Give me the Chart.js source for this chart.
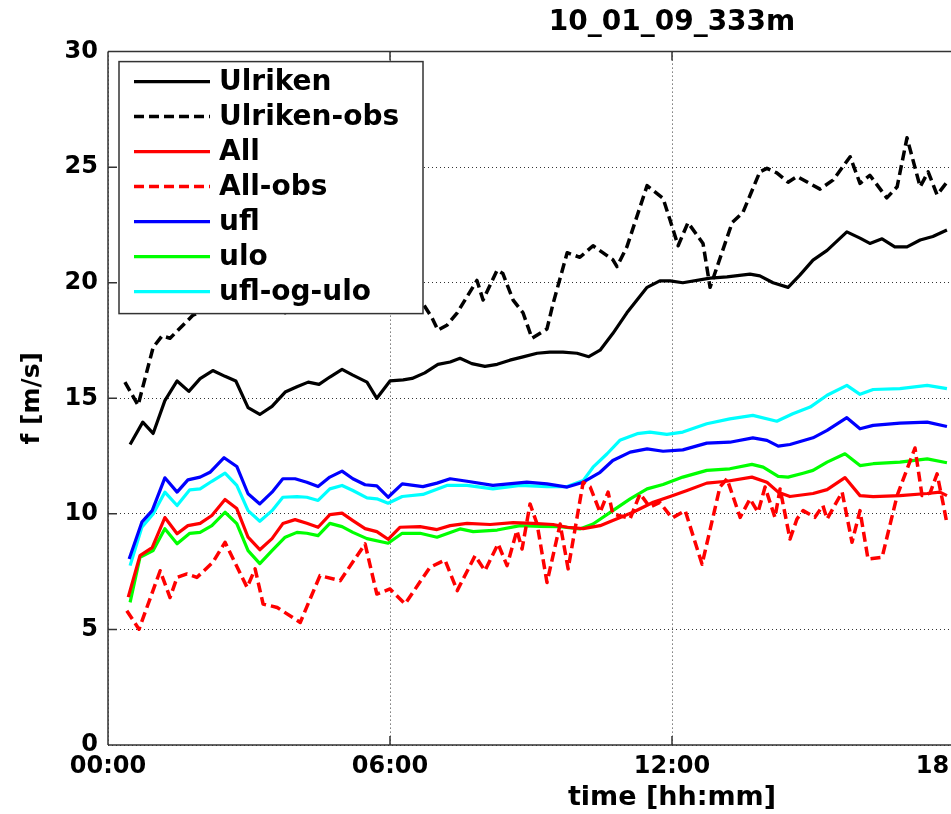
<!DOCTYPE html>
<html>
<head>
<meta charset="utf-8">
<script src="https://cdn.jsdelivr.net/npm/chart.js@4"></script>
<style>
html,body{margin:0;padding:0;overflow:hidden;background:#fff}
#wrap{width:951px;height:814px;overflow:hidden;position:relative}
canvas{display:block}
</style>
</head>
<body>
<div id="wrap"><canvas id="c" width="1300" height="814" style="width:1300px;height:814px"></canvas></div>
<script>
// ---------- data (time in hours, value in m/s) ----------
const chartTitle = '10_01_09_333m';
const xTitle = 'time [hh:mm]';
const yTitle = 'f [m/s]';
const xTickHours = [0, 6, 12, 18, 24];
const yTicks = [0, 5, 10, 15, 20, 25, 30];

const ulrikenT = [0.47,0.74,0.96,1.21,1.47,1.72,1.96,2.23,2.49,2.72,2.98,3.23,3.49,3.77,4.02,4.26,4.49,4.72,4.98,5.21,5.51,5.72,6.0,6.28,6.47,6.74,7.02,7.28,7.49,7.74,8.02,8.28,8.55,8.83,9.13,9.4,9.68,9.98,10.23,10.47,10.74,11.04,11.47,11.74,11.96,12.23,12.81,13.17,13.66,13.87,14.15,14.47,14.72,15.0,15.3,15.72,16.0,16.21,16.47,16.74,17.0,17.28,17.55,17.85];
const ulrikenV = [13.0,13.97,13.48,14.9,15.75,15.3,15.85,16.2,15.95,15.75,14.6,14.3,14.65,15.27,15.5,15.7,15.6,15.92,16.25,16.0,15.7,15.0,15.75,15.8,15.86,16.1,16.47,16.57,16.73,16.5,16.38,16.47,16.65,16.79,16.95,17.0,17.0,16.95,16.8,17.08,17.8,18.7,19.8,20.08,20.08,20.0,20.2,20.25,20.37,20.3,20.0,19.8,20.33,20.98,21.4,22.2,21.93,21.7,21.9,21.55,21.55,21.85,22.0,22.28];

const ulrikenObsT = [0.36,0.64,0.96,1.15,1.32,1.81,2.28,2.81,3.28,3.77,4.19,4.72,5.26,5.79,6.32,6.7,6.89,7.02,7.21,7.43,7.85,7.98,8.28,8.4,8.62,8.83,9.02,9.34,9.47,9.77,10.04,10.32,10.74,10.83,11.04,11.47,11.81,11.96,12.13,12.34,12.66,12.81,13.28,13.51,13.87,14.02,14.23,14.47,14.66,15.15,15.43,15.79,16.0,16.21,16.57,16.79,17.0,17.28,17.45,17.64,17.85];
const ulrikenObsV = [15.7,14.7,17.2,17.7,17.6,18.6,19.0,19.6,19.3,18.7,19.1,19.7,20.2,19.6,19.9,19.1,18.5,17.95,18.16,18.7,20.1,19.25,20.55,20.4,19.25,18.7,17.6,18.0,19.1,21.3,21.1,21.6,21.0,20.7,21.55,24.2,23.65,22.7,21.6,22.6,21.7,19.8,22.6,23.05,24.8,24.95,24.75,24.35,24.6,24.05,24.45,25.45,24.3,24.65,23.67,24.15,26.27,24.15,24.8,23.8,24.35];

const allT = [0.43,0.68,0.94,1.21,1.47,1.7,1.96,2.21,2.49,2.74,2.98,3.23,3.49,3.72,3.98,4.23,4.47,4.72,4.98,5.21,5.47,5.72,5.96,6.21,6.64,7.0,7.28,7.64,8.13,8.62,9.04,9.47,9.77,10.11,10.47,10.74,11.17,11.6,11.96,12.32,12.74,13.17,13.7,14.02,14.26,14.51,15.0,15.3,15.68,16.0,16.28,16.85,17.43,17.7,17.85];
const allV = [6.4,8.19,8.54,9.84,9.14,9.49,9.59,9.93,10.62,10.23,8.99,8.45,8.93,9.58,9.75,9.59,9.42,9.97,10.03,9.71,9.36,9.23,8.9,9.42,9.45,9.32,9.49,9.59,9.54,9.62,9.59,9.54,9.42,9.36,9.49,9.71,10.07,10.5,10.75,11.01,11.33,11.41,11.59,11.37,10.94,10.75,10.88,11.05,11.57,10.79,10.75,10.79,10.88,10.94,10.79];

const allObsT = [0.4,0.66,1.11,1.32,1.47,1.68,1.89,2.23,2.49,2.96,3.13,3.3,3.6,4.09,4.51,4.94,5.47,5.72,6.0,6.32,6.85,7.17,7.43,7.81,8.02,8.3,8.49,8.7,8.81,8.98,9.13,9.34,9.62,9.79,10.11,10.26,10.47,10.64,10.74,11.11,11.32,11.53,11.74,12.0,12.28,12.64,13.02,13.17,13.45,13.66,13.83,13.98,14.19,14.3,14.51,14.66,14.79,15.04,15.21,15.3,15.62,15.83,16.0,16.17,16.47,16.79,17.17,17.32,17.49,17.64,17.77,17.85];
const allObsV = [5.81,5.01,7.54,6.38,7.25,7.4,7.25,7.9,8.77,6.82,7.62,6.1,5.95,5.3,7.33,7.11,8.7,6.53,6.75,6.1,7.69,8.0,6.68,8.19,7.54,8.7,7.76,9.28,8.48,10.43,9.56,7.03,9.56,7.62,11.37,11.16,10.07,10.94,10.0,9.8,10.87,10.29,10.5,9.82,10.14,7.82,11.16,11.52,9.85,10.65,10.07,11.16,9.85,11.08,8.91,9.78,10.14,9.85,10.36,9.78,10.94,8.77,10.14,8.05,8.12,10.79,12.85,10.79,10.9,11.73,10.43,9.58];

const uflT = [0.45,0.72,0.94,1.21,1.47,1.7,1.96,2.17,2.47,2.74,2.98,3.23,3.49,3.72,3.98,4.23,4.47,4.72,4.98,5.21,5.47,5.72,5.96,6.26,6.7,7.0,7.28,7.64,8.19,8.91,9.34,9.77,10.11,10.47,10.74,11.11,11.47,11.81,12.23,12.74,13.23,13.72,14.02,14.26,14.51,15.0,15.3,15.72,16.0,16.28,16.85,17.43,17.85];
const uflV = [8.05,9.64,10.14,11.56,10.94,11.47,11.59,11.8,12.43,12.05,10.87,10.43,10.94,11.52,11.52,11.37,11.18,11.59,11.85,11.52,11.26,11.21,10.72,11.3,11.18,11.33,11.52,11.41,11.23,11.37,11.3,11.16,11.37,11.8,12.31,12.67,12.81,12.71,12.77,13.06,13.1,13.29,13.18,12.93,13.0,13.29,13.61,14.16,13.68,13.83,13.93,13.97,13.78];

const uloT = [0.47,0.68,0.96,1.21,1.47,1.74,1.96,2.21,2.49,2.74,2.98,3.23,3.49,3.77,4.02,4.23,4.47,4.72,4.98,5.21,5.51,5.96,6.26,6.64,7.0,7.49,7.77,8.28,8.77,9.19,9.62,10.04,10.32,10.74,11.11,11.47,11.81,12.23,12.74,13.23,13.7,13.94,14.26,14.47,14.79,15.0,15.3,15.68,16.0,16.28,16.85,17.43,17.85];
const uloV = [6.17,8.12,8.41,9.36,8.71,9.16,9.2,9.49,10.07,9.58,8.41,7.85,8.41,8.99,9.2,9.16,9.06,9.59,9.45,9.2,8.93,8.73,9.16,9.16,8.99,9.35,9.23,9.3,9.49,9.46,9.45,9.35,9.56,10.14,10.65,11.08,11.27,11.59,11.88,11.95,12.14,12.02,11.62,11.59,11.76,11.88,12.24,12.6,12.09,12.17,12.24,12.38,12.21];

const uflUloT = [0.47,0.72,0.96,1.21,1.47,1.74,1.96,2.21,2.49,2.74,2.98,3.23,3.49,3.72,4.02,4.23,4.47,4.72,4.98,5.21,5.51,5.72,5.96,6.26,6.7,7.21,7.64,8.19,8.77,9.34,9.77,10.11,10.32,10.62,10.89,11.26,11.53,11.89,12.23,12.74,13.23,13.72,14.23,14.57,14.94,15.3,15.72,16.0,16.28,16.85,17.43,17.85];
const uflUloV = [7.76,9.42,10.0,10.94,10.36,11.04,11.08,11.41,11.76,11.23,10.14,9.68,10.14,10.72,10.75,10.72,10.58,11.08,11.23,11.01,10.69,10.65,10.46,10.75,10.84,11.23,11.23,11.08,11.23,11.18,11.18,11.44,12.02,12.6,13.18,13.47,13.54,13.44,13.54,13.9,14.11,14.26,14.01,14.33,14.62,15.13,15.56,15.17,15.38,15.42,15.56,15.42];

const seriesNames = ['Ulriken','Ulriken-obs','All','All-obs','ufl','ulo','ufl-og-ulo'];

// ---------- build datasets ----------
const pts = (t, v) => t.map((x, i) => ({x: x, y: v[i]}));
const mk = (label, t, v, color, dashed) => ({
  label, data: pts(t, v), borderColor: color, backgroundColor: color,
  borderWidth: dashed ? 3.5 : 3.2, borderDash: dashed ? [10, 5] : [], pointRadius: 0, tension: 0,
  fill: false, borderCapStyle: 'butt', borderJoinStyle: 'round'
});
const datasets = [
  mk(seriesNames[0], ulrikenT, ulrikenV, '#000000', false),
  mk(seriesNames[1], ulrikenObsT, ulrikenObsV, '#000000', true),
  mk(seriesNames[2], allT, allV, '#ff0000', false),
  mk(seriesNames[3], allObsT, allObsV, '#ff0000', true),
  mk(seriesNames[4], uflT, uflV, '#0000ff', false),
  mk(seriesNames[5], uloT, uloV, '#00ff00', false),
  mk(seriesNames[6], uflUloT, uflUloV, '#00ffff', false)
];

const FONT = "'DejaVu Sans', 'Liberation Sans', sans-serif";

// frame + inward tick marks (MATLAB style)
const framePlugin = {
  id: 'frame',
  afterDatasetsDraw(chart) {
    const {ctx, chartArea: a, scales} = chart;
    ctx.save();
    ctx.strokeStyle = '#333';
    ctx.lineWidth = 1.5;
    ctx.setLineDash([]);
    ctx.beginPath();
    ctx.moveTo(a.left, a.top); ctx.lineTo(a.right, a.top);
    ctx.moveTo(a.left, a.top); ctx.lineTo(a.left, a.bottom);
    ctx.moveTo(a.left, a.bottom); ctx.lineTo(a.right, a.bottom);
    ctx.moveTo(a.right, a.top); ctx.lineTo(a.right, a.bottom);
    const tl = 9;
    scales.y.ticks.forEach(t => {
      const py = scales.y.getPixelForValue(t.value);
      ctx.moveTo(a.left, py); ctx.lineTo(a.left + tl, py);
      ctx.moveTo(a.right, py); ctx.lineTo(a.right - tl, py);
    });
    scales.x.ticks.forEach(t => {
      const px = scales.x.getPixelForValue(t.value);
      ctx.moveTo(px, a.bottom); ctx.lineTo(px, a.bottom - tl);
      ctx.moveTo(px, a.top); ctx.lineTo(px, a.top + tl);
    });
    ctx.stroke();
    ctx.restore();
  }
};

// boxed legend inside the plot, drawn over the data
const boxLegend = {
  id: 'boxLegend',
  afterDatasetsDraw(chart) {
    const {ctx, chartArea: a} = chart;
    const x0 = a.left + 11, y0 = a.top + 10, w = 304, h = 252, row = 35;
    ctx.save();
    ctx.fillStyle = '#fff';
    ctx.fillRect(x0, y0, w, h);
    ctx.strokeStyle = '#333';
    ctx.lineWidth = 1.5;
    ctx.setLineDash([]);
    ctx.strokeRect(x0, y0, w, h);
    chart.data.datasets.forEach((ds, i) => {
      const cy = y0 + 20 + i * row;
      ctx.save();
      ctx.strokeStyle = ds.borderColor;
      ctx.lineWidth = ds.borderWidth;
      ctx.setLineDash(ds.borderDash || []);
      ctx.lineCap = 'butt';
      ctx.beginPath();
      ctx.moveTo(x0 + 15, cy); ctx.lineTo(x0 + 91, cy);
      ctx.stroke();
      ctx.restore();
      ctx.fillStyle = '#000';
      ctx.font = 'bold 28px ' + FONT;
      ctx.textBaseline = 'middle';
      ctx.textAlign = 'left';
      ctx.fillText(ds.label, x0 + 100, cy + 1);
    });
    ctx.restore();
  }
};

new Chart(document.getElementById('c'), {
  type: 'line',
  data: {datasets},
  options: {
    responsive: false,
    animation: false,
    devicePixelRatio: 1,
    layout: {padding: {left: 0, right: 64, top: 0, bottom: 0}},
    plugins: {
      legend: {display: false},
      tooltip: {enabled: false},
      title: {
        display: true, text: chartTitle, fullSize: false, color: '#000',
        font: {family: FONT, size: 28, weight: 'bold'},
        padding: {top: 6, bottom: 12}
      }
    },
    scales: {
      x: {
        type: 'linear', position: 'bottom', min: 0, max: 24,
        afterBuildTicks: s => { s.ticks = xTickHours.map(v => ({value: v})); },
        ticks: {
          color: '#000', padding: 7, maxRotation: 0, autoSkip: false,
          font: {family: FONT, size: 24, weight: 'bold'},
          callback: v => String(v).padStart(2, '0') + ':00'
        },
        grid: {color: 'rgba(0,0,0,0.8)', lineWidth: 1, drawTicks: false},
        border: {display: false, dash: [1, 3]},
        title: {display: true, text: xTitle, color: '#000', font: {family: FONT, size: 27, weight: 'bold'}, padding: {top: 0, bottom: 0}},
        afterFit: s => { s.height = 69; }
      },
      y: {
        position: 'left', min: 0, max: 30,
        afterBuildTicks: s => { s.ticks = yTicks.map(v => ({value: v})); },
        ticks: {color: '#000', padding: 10, font: {family: FONT, size: 24, weight: 'bold'}},
        grid: {color: 'rgba(0,0,0,0.8)', lineWidth: 1, drawTicks: false},
        border: {display: false, dash: [1, 3]},
        title: {display: true, text: yTitle, color: '#000', font: {family: FONT, size: 25, weight: 'bold'}, padding: {top: 17, bottom: 17}},
        afterFit: s => { s.width = 108; }
      }
    }
  },
  plugins: [framePlugin, boxLegend]
});
</script>
</body>
</html>
